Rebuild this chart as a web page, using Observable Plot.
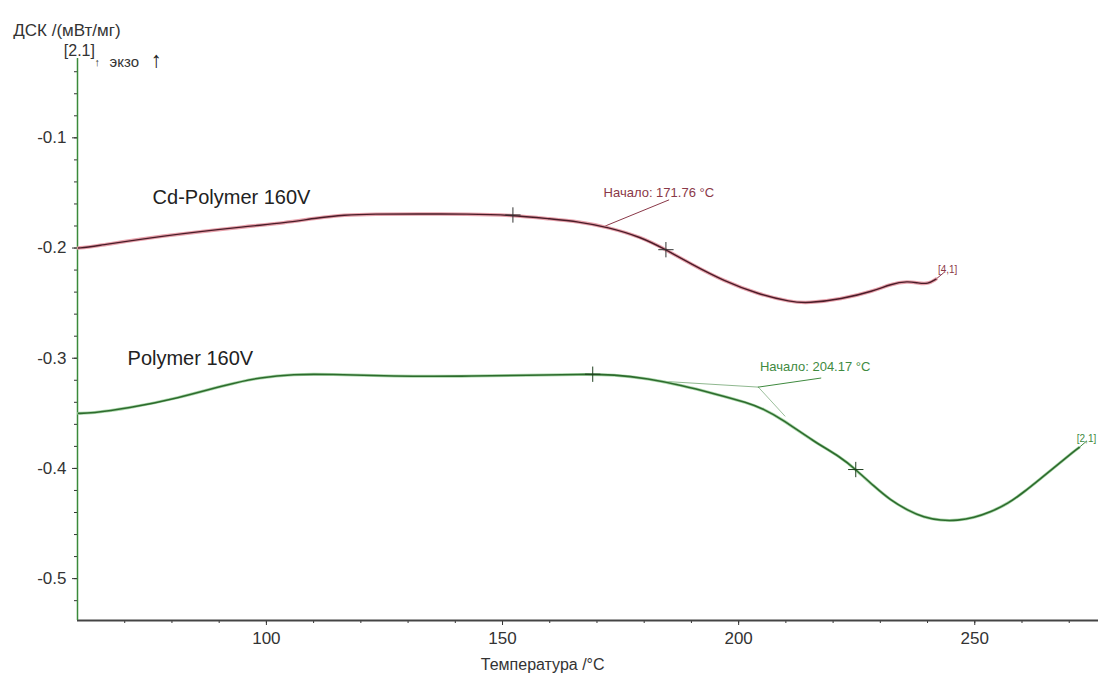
<!DOCTYPE html>
<html>
<head>
<meta charset="utf-8">
<script src="https://cdn.jsdelivr.net/npm/d3@7"></script>
<script src="https://cdn.jsdelivr.net/npm/@observablehq/plot@0.6"></script>
<style>
  html, body { margin: 0; padding: 0; background: #fff; }
  #chart svg { display: block; }
</style>
</head>
<body>
<div id="chart"></div>
<script>
// Cd-Polymer 160V DSC curve
const cdT = [60.2, 62.8, 77.6, 96.7, 103.6, 110.8, 116.4, 122.7, 132.0, 142.6, 151.7, 160.2, 166.0, 172.3, 179.3, 184.6, 189.9, 196.9, 204.1, 211.1, 214.7, 221.7, 228.6, 232.2, 235.8, 238.0, 240.1, 241.8];
const cdV = [-0.200, -0.199, -0.189, -0.180, -0.1773, -0.1727, -0.170, -0.1691, -0.1691, -0.1691, -0.170, -0.1736, -0.176, -0.181, -0.190, -0.2015, -0.2145, -0.230, -0.2418, -0.249, -0.250, -0.2464, -0.239, -0.2327, -0.230, -0.2318, -0.2327, -0.2282];
// Polymer 160V DSC curve
const polyT = [60.2, 62.8, 70.6, 81.2, 91.8, 98.8, 105.8, 113.0, 127.0, 141.1, 156.0, 166.6, 173.6, 180.8, 187.8, 194.7, 202.0, 205.3, 208.9, 215.9, 221.7, 224.8, 228.6, 232.2, 235.8, 239.2, 242.8, 246.4, 249.8, 253.4, 257.0, 260.4, 264.0, 267.6, 271.0, 272.1];
const polyV = [-0.350, -0.350, -0.3455, -0.3364, -0.3236, -0.3173, -0.3145, -0.3145, -0.3164, -0.3164, -0.3155, -0.3145, -0.3148, -0.3185, -0.3245, -0.332, -0.3405, -0.3462, -0.3545, -0.3755, -0.390, -0.401, -0.416, -0.429, -0.438, -0.4445, -0.4473, -0.4473, -0.4448, -0.4395, -0.432, -0.4215, -0.409, -0.3964, -0.3845, -0.381];

// marker crosses
const cdMarkT = [152.2, 184.6];
const cdMarkV = [-0.170, -0.2015];
const polyMarkT = [169.1, 224.8];
const polyMarkV = [-0.3145, -0.401];

// tick values
const xMajor = [100, 150, 200, 250];
const xMinor = d3.range(70, 280, 10);
const yMajor = [-0.1, -0.2, -0.3, -0.4, -0.5];
const yMinor = d3.range(-0.52, -0.03, 0.02).map(v => +v.toFixed(2));

// annotation lines (onset construction)
const cdLeaderT = [171.76, 185.2];
const cdLeaderV = [-0.180, -0.1564];
const polyBaseT = [184.2, 204.17];
const polyBaseV = [-0.321, -0.3262];
const polySteepT = [204.17, 209.8];
const polySteepV = [-0.3262, -0.3525];
const polyLeaderT = [204.17, 217.4];
const polyLeaderV = [-0.3262, -0.318];
const cdEndT = [241.8, 243.4];
const cdEndV = [-0.2282, -0.2225];
const polyEndT = [272.1, 273.6];
const polyEndV = [-0.381, -0.3755];

// texts
const seriesLabels = [
  {t: 75.9, v: -0.1545, text: "Cd-Polymer 160V"},
  {t: 70.6, v: -0.300, text: "Polymer 160V"}
];
const cdNotes = [
  {t: 171.4, v: -0.150, text: "Начало: 171.76 °C", size: 13},
  {t: 242.2, v: -0.2195, text: "[4,1]", size: 10}
];
const polyNotes = [
  {t: 204.5, v: -0.308, text: "Начало: 204.17 °C", size: 13},
  {t: 271.6, v: -0.3727, text: "[2,1]", size: 10}
];

const cd = cdT.map((t, i) => ({t, v: cdV[i]}));
const poly = polyT.map((t, i) => ({t, v: polyV[i]}));
const zip = (a, b) => a.map((t, i) => ({t, v: b[i]}));

const cdDark = "#4a1c28", cdHalo = "#e7a1ab", cdText = "#8a3848";
const grDark = "#2d6b2d", grHalo = "#a9d6a9", grText = "#3f8a3f";
const font = "'Liberation Sans', Arial, sans-serif";

const chart = Plot.plot({
  width: 1098,
  height: 673,
  marginLeft: 77,
  marginRight: 0,
  marginTop: 58,
  marginBottom: 53,
  style: {fontFamily: font, background: "#fff", color: "#333"},
  x: {domain: [60, 276.2]},
  y: {domain: [-0.538, -0.028]},
  marks: [
    // minor ticks
    Plot.axisX({ticks: xMinor, tickSize: 3, text: null, label: null, stroke: "#333"}),
    Plot.axisX({ticks: xMajor, tickSize: 5, tickPadding: 6, fontSize: 17, label: null, stroke: "#333", fill: "#333"}),
    Plot.axisY({ticks: yMinor, tickSize: 3, text: null, label: null, stroke: "#333"}),
    Plot.axisY({ticks: yMajor, tickSize: 5, tickPadding: 6, fontSize: 17, label: null, tickFormat: d => d.toFixed(1), stroke: "#333", fill: "#333"}),
    Plot.ruleY([-0.538], {stroke: "#444", strokeWidth: 2}),
    Plot.ruleX([60], {stroke: "#3a8a3a", strokeWidth: 1.5}),

    // construction lines
    Plot.line(zip(cdLeaderT, cdLeaderV), {x: "t", y: "v", stroke: cdText, strokeWidth: 1}),
    Plot.line(zip(cdEndT, cdEndV), {x: "t", y: "v", stroke: cdText, strokeWidth: 1}),
    Plot.line(zip(polyBaseT, polyBaseV), {x: "t", y: "v", stroke: "#8fb88f", strokeWidth: 1}),
    Plot.line(zip(polySteepT, polySteepV), {x: "t", y: "v", stroke: "#9cbf9c", strokeWidth: 1}),
    Plot.line(zip(polyLeaderT, polyLeaderV), {x: "t", y: "v", stroke: grText, strokeWidth: 1}),
    Plot.line(zip(polyEndT, polyEndV), {x: "t", y: "v", stroke: grText, strokeWidth: 1}),

    // curves
    Plot.line(cd, {x: "t", y: "v", stroke: cdHalo, strokeWidth: 3.5, curve: "basis"}),
    Plot.line(cd, {x: "t", y: "v", stroke: cdDark, strokeWidth: 1.4, curve: "basis"}),
    Plot.line(poly, {x: "t", y: "v", stroke: grHalo, strokeWidth: 3, curve: "basis"}),
    Plot.line(poly, {x: "t", y: "v", stroke: grDark, strokeWidth: 1.6, curve: "basis"}),

    // markers
    Plot.dot(zip(cdMarkT, cdMarkV), {x: "t", y: "v", symbol: "plus", r: 5, stroke: "#333", strokeWidth: 1}),
    Plot.dot(zip(polyMarkT, polyMarkV), {x: "t", y: "v", symbol: "plus", r: 5, stroke: "#1f3f1f", strokeWidth: 1}),

    // texts
    Plot.text(seriesLabels, {x: "t", y: "v", text: "text", textAnchor: "start", fontSize: 20, fill: "#222"}),
    Plot.text(cdNotes, {x: "t", y: "v", text: "text", textAnchor: "start", fontSize: d => d.size, fill: cdText}),
    Plot.text(polyNotes, {x: "t", y: "v", text: "text", textAnchor: "start", fontSize: d => d.size, fill: grText}),
    Plot.text(["ДСК /(мВт/мг)"], {x: 46.4, y: -0.0027, textAnchor: "start", fontSize: 17, fill: "#333"}),
    Plot.text(["[2.1]"], {x: 60.4, y: -0.0215, textAnchor: "middle", fontSize: 16, fill: "#333"}),
    Plot.text(["↑"], {x: 64.2, y: -0.032, textAnchor: "middle", fontSize: 11, fill: "#333"}),
    Plot.text(["экзо"], {x: 66.8, y: -0.0318, textAnchor: "start", fontSize: 15, fill: "#333"}),
    Plot.text(["↑"], {x: 76.7, y: -0.029, textAnchor: "middle", fontSize: 22, fontWeight: "bold", fill: "#222"}),
    Plot.text(["Температура /°C"], {x: 158.5, y: -0.578, textAnchor: "middle", fontSize: 16, fill: "#333"})
  ]
});
document.getElementById("chart").appendChild(chart);
</script>
</body>
</html>
